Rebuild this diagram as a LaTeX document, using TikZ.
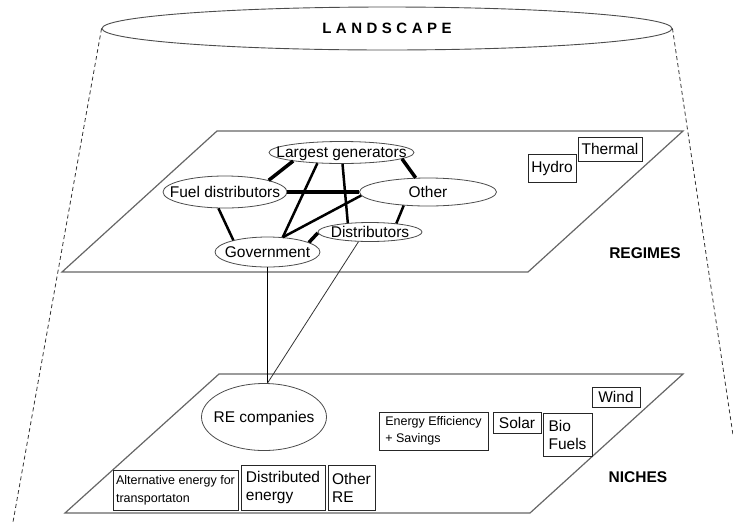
\documentclass[tikz,border=0pt]{standalone}
\usepackage{fontspec}
\setmainfont{Liberation Sans}
\usepackage{tikz}
\usetikzlibrary{shapes.geometric}

\newcommand{\ovaltext}[1]{\makebox[0pt]{\smash{\raisebox{-5pt}{#1}}}}

\begin{document}
\begin{tikzpicture}[x=1pt,y=-1pt]
        \tikzstyle{every node} = [font=\fontsize{15.5}{18}\selectfont]
        \tikzstyle{actor} = [ellipse, draw=black!70, line width=0.8pt, fill=white, inner sep=0pt]
        \tikzstyle{tech} = [rectangle, draw=black!85, line width=0.8pt, fill=white, align=left, inner sep=1pt]
        \tikzstyle{plane} = [draw=black!60, line width=1.2pt]
        \tikzstyle{level} = [font=\fontsize{15.5}{18}\selectfont\bfseries]
        \useasboundingbox (0,0) rectangle (733,523);

        % landscape and its cone
        \node[ellipse, draw=black!70, line width=0.9pt, minimum width=570pt, minimum height=43pt,
              font=\fontsize{15}{18}\selectfont\bfseries\addfontfeature{LetterSpace=30}] (land) at (387,28.5) {\raisebox{-2.5pt}{LANDSCAPE}};
        \coordinate (lfoot) at (13,522);
        \coordinate (rfoot) at (733,435);
        \draw[black!80, line width=0.8pt, dash pattern=on 4pt off 3pt] (land.west) -- (lfoot);
        \draw[black!80, line width=0.8pt, dash pattern=on 4pt off 3pt] (land.east) -- (rfoot);

        % the two planes
        \draw[plane] (217,131) -- (683,131) -- (528,272) -- (62,272) -- cycle;
        \draw[plane] (219,374) -- (683,374) -- (530,513) -- (65,513) -- cycle;

        % regime actors
        \node[actor, minimum width=145pt, minimum height=22pt] (lg) at (341.5,152.5) {\ovaltext{Largest generators}};
        \node[actor, minimum width=124pt, minimum height=32pt] (fd) at (225,192) {\ovaltext{Fuel distributors}};
        \node[actor, minimum width=137pt, minimum height=28pt] (ot) at (428,192) {\ovaltext{Other}};
        \node[actor, minimum width=104pt, minimum height=19pt] (ds) at (370,232) {\ovaltext{Distributors}};
        \node[actor, minimum width=105pt, minimum height=30pt] (gv) at (267.5,252) {\ovaltext{Government}};
        \foreach \from/\to in {lg.190/fd.15, lg.354/ot.131, fd.east/ot.west, gv.13/ds.181}
            \draw[line width=3.5pt] (\from) -- (\to);
        \foreach \from/\to in {fd.248/gv.161, lg.204/gv.44, lg.275/ds.158, ot.183/gv.44, ot.209/ds.18}
            \draw[line width=2.5pt] (\from) -- (\to);

        \node[tech, minimum width=48pt, minimum height=28pt] (hydro) at (552,168) {Hydro};
        \node[tech, minimum width=64pt, minimum height=24pt] (thermal) at (610,149) {Thermal};
        \node[level] (regimes) at (645,253) {REGIMES};

        % niches
        \node[actor, minimum width=125pt, minimum height=67pt] (re) at (264,417) {\ovaltext{RE companies}};
        \coordinate (hub) at (gv.south |- re.north);
        \draw[line width=0.8pt] (gv.south) -- (hub);
        \draw[black!80, line width=0.8pt] (ds.220) -- (hub);

        \node[tech, minimum width=125pt, minimum height=40pt, font=\fontsize{12.5}{18}\selectfont] (altfuel) at (175.5,490) {Alternative energy for\\transportaton};
        \node[tech, minimum width=84pt, minimum height=45pt] (disten) at (283,487.5) {Distributed\\energy};
        \node[tech, minimum width=47pt, minimum height=45pt] (otherre) at (351.5,487.5) {Other\\RE};
        \node[tech, minimum width=109pt, minimum height=38pt, font=\fontsize{12.5}{17}\selectfont] (effic) at (433.5,431) {Energy Efficiency\\+ Savings};
        \node[tech, minimum width=48pt, minimum height=21pt] (solar) at (517,422.5) {Solar};
        \node[tech, minimum width=49pt, minimum height=43pt] (bio) at (567.5,434.5) {Bio\\Fuels};
        \node[tech, minimum width=48pt, minimum height=20pt] (wind) at (616,397) {Wind};
        \node[level] (niches) at (638,477) {NICHES};
    \end{tikzpicture}
\end{document}
